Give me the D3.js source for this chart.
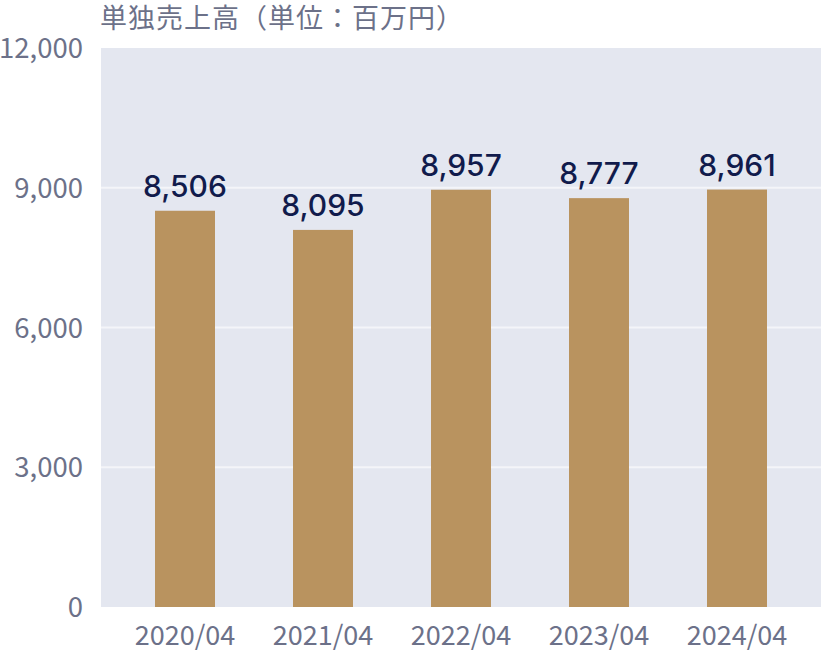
<!DOCTYPE html>
<html><head><meta charset="utf-8">
<script src="https://cdn.jsdelivr.net/npm/d3@7"></script>
<style>body{margin:0;background:#fff}</style>
</head><body>
<svg id="c" width="821" height="653"></svg>
<script>
const categories = ["2020/04","2021/04","2022/04","2023/04","2024/04"];
const values = [8506, 8095, 8957, 8777, 8961];
const yTicks = [0, 3000, 6000, 9000, 12000];
const title = "単独売上高（単位：百万円）";

const svg = d3.select("#c");
const plot = {x0:101, x1:821, y0:48, y1:607};
const x = d3.scaleBand().domain(categories).range([116, 806]);
const y = d3.scaleLinear().domain([0,12000]).range([plot.y1, plot.y0]);
const fmt = d3.format(",");
const cjk = "'Noto Sans CJK JP','Noto Sans',sans-serif";

svg.append("rect").attr("x",plot.x0).attr("y",plot.y0)
  .attr("width",plot.x1-plot.x0).attr("height",plot.y1-plot.y0).attr("fill","#e4e7f0");

svg.selectAll("line.grid").data(yTicks.filter(d=>d>0 && d<12000)).enter().append("line")
  .attr("x1",plot.x0).attr("x2",plot.x1)
  .attr("y1",d=>y(d)).attr("y2",d=>y(d))
  .attr("stroke","#f4f5f9").attr("stroke-width",2);

const bw = 60;
svg.selectAll("rect.bar").data(values).enter().append("rect")
  .attr("x",(d,i)=>x(categories[i])+x.bandwidth()/2-bw/2)
  .attr("y",d=>y(d)).attr("width",bw).attr("height",d=>y(0)-y(d))
  .attr("fill","#b9935f");

svg.selectAll("text.val").data(values).enter().append("text")
  .attr("x",(d,i)=>x(categories[i])+x.bandwidth()/2)
  .attr("y",d=>y(d)-14)
  .attr("text-anchor","middle")
  .attr("font-family","Inter,'Noto Sans',sans-serif")
  .attr("font-size",30).attr("font-weight",500)
  .attr("fill","#111b4c")
  .text(d=>fmt(d));

svg.selectAll("text.yt").data(yTicks).enter().append("text")
  .attr("x",83).attr("y",d=>y(d)+10)
  .attr("text-anchor","end")
  .attr("font-family",cjk).attr("font-size",27.5)
  .attr("fill","#6c7189")
  .text(d=>fmt(d));

svg.selectAll("text.xt").data(categories).enter().append("text")
  .attr("x",d=>x(d)+x.bandwidth()/2).attr("y",645)
  .attr("text-anchor","middle")
  .attr("font-family",cjk).attr("font-size",27)
  .attr("fill","#6c7189")
  .text(d=>d);

svg.append("text").attr("x",100).attr("y",28)
  .attr("font-family",cjk).attr("font-size",27).attr("letter-spacing",1)
  .attr("fill","#6c7189").text(title);
</script>
</body></html>
